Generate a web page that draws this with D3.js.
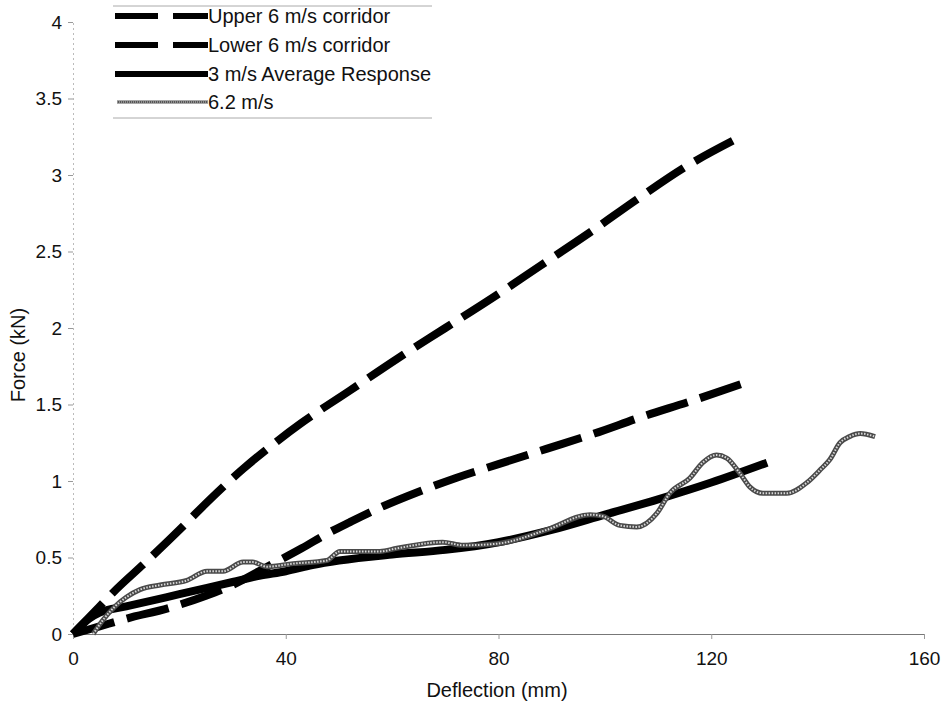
<!DOCTYPE html>
<html><head><meta charset="utf-8">
<script src="https://cdn.jsdelivr.net/npm/d3@7/dist/d3.min.js"></script>
<style>body{margin:0;background:#fff}svg{display:block}text{font-family:"Liberation Sans",Arial,sans-serif;fill:#111}</style>
</head><body>
<svg id="c" width="945" height="715"></svg>
<script>
const xTicks = [0, 40, 80, 120, 160];
const yTicks = [0, 0.5, 1, 1.5, 2, 2.5, 3, 3.5, 4];
const yTickLabels = ["0", "0.5", "1", "1.5", "2", "2.5", "3", "3.5", "4"];
const seriesNames = ["Upper 6 m/s corridor", "Lower 6 m/s corridor", "3 m/s Average Response", "6.2 m/s"];
const upperCorridor = [[0,0],[5,0.18],[7.5,0.27],[14,0.48],[20,0.68],[24,0.82],[32,1.08],[38,1.25],[43,1.38],[52,1.59],[61,1.80],[70,2.0],[79,2.2],[88,2.41],[97,2.62],[106,2.84],[115,3.05],[125.5,3.25]];
const lowerCorridor = [[0,0],[5,0.05],[10,0.1],[18,0.17],[25,0.25],[30,0.32],[36,0.43],[43,0.56],[48,0.66],[52,0.73],[58,0.83],[65,0.93],[72,1.02],[80,1.11],[89,1.21],[98,1.31],[107,1.42],[116,1.52],[127,1.65]];
const avg3 = [[0,0],[3,0.1],[5,0.14],[10,0.18],[15,0.22],[20,0.26],[25,0.3],[30,0.34],[35,0.38],[40,0.41],[45,0.45],[50,0.48],[60,0.52],[70,0.55],[80,0.6],[90,0.68],[100,0.78],[110,0.88],[120,0.99],[130.5,1.12]];
const run62 = [[3.8,0],[5.6,0.09],[7.9,0.18],[10,0.24],[12.6,0.29],[16.4,0.32],[21.4,0.35],[25.2,0.41],[28.2,0.41],[32,0.47],[33.8,0.47],[36.4,0.44],[41.4,0.46],[47.7,0.48],[50.2,0.54],[57.7,0.54],[60.9,0.56],[69.5,0.6],[73.3,0.58],[79.7,0.59],[89,0.68],[97.2,0.78],[99.6,0.77],[102.8,0.71],[106,0.70],[109.8,0.79],[112.2,0.92],[116,1.02],[118.4,1.12],[121,1.17],[122.9,1.15],[125.4,1.05],[127.3,0.96],[129.7,0.92],[134.2,0.92],[138,0.99],[140.4,1.07],[142.3,1.14],[144.2,1.25],[146,1.29],[148,1.31],[150.8,1.29]];

const svg = d3.select("#c");
const x = d3.scaleLinear().domain([0,160]).range([73,924]);
const y = d3.scaleLinear().domain([0,4]).range([634,22]);
const FF = "Liberation Sans, Arial, sans-serif";

// y axis (faint dotted)
const yAx = svg.append("g").attr("transform","translate(73,0)")
  .call(d3.axisLeft(y).tickValues(yTicks).tickFormat((d,i)=>yTickLabels[i]).tickSize(5).tickPadding(6));
yAx.select(".domain").attr("stroke","#bbb").attr("stroke-dasharray","2,3");
yAx.selectAll(".tick line").attr("stroke","#999");
yAx.selectAll(".tick text").attr("font-size",19).style("font-family",FF).attr("fill","#111");

// x axis
const xAx = svg.append("g").attr("transform","translate(0,634)")
  .call(d3.axisBottom(x).tickValues(xTicks).tickFormat(d3.format("d")).tickSizeInner(5).tickSizeOuter(0).tickPadding(13));
xAx.select(".domain").attr("stroke","#777");
xAx.selectAll(".tick line").attr("stroke","#999");
xAx.selectAll(".tick text").attr("font-size",19).style("font-family",FF).attr("fill","#111");

svg.append("text").attr("x",497).attr("y",697).attr("text-anchor","middle").attr("font-size",20).text("Deflection (mm)");
svg.append("text").attr("transform","translate(25,355) rotate(-90)").attr("text-anchor","middle").attr("font-size",20).text("Force (kN)");

const lineS = d3.line().x(d=>x(d[0])).y(d=>y(d[1])).curve(d3.curveMonotoneX);

svg.append("path").datum(upperCorridor).attr("d",lineS).attr("fill","none").attr("stroke","#000").attr("stroke-width",8).attr("stroke-dasharray","43,13");
svg.append("path").datum(lowerCorridor).attr("d",lineS).attr("fill","none").attr("stroke","#000").attr("stroke-width",8).attr("stroke-dasharray","43,13");
svg.append("path").datum(avg3).attr("d",lineS).attr("fill","none").attr("stroke","#000").attr("stroke-width",8);
svg.append("path").datum(run62).attr("d",lineS).attr("fill","none").attr("stroke","#4a4a4a").attr("stroke-width",5).attr("stroke-linejoin","round");
svg.append("path").datum(run62).attr("d",lineS).attr("fill","none").attr("stroke","#d8d8d8").attr("stroke-width",2).attr("stroke-dasharray","1.5,1.5");

// legend
const lg = svg.append("g");
lg.append("line").attr("x1",113).attr("x2",432).attr("y1",6).attr("y2",6).attr("stroke","#aaa").attr("stroke-width",1);
lg.append("line").attr("x1",113).attr("x2",432).attr("y1",118).attr("y2",118).attr("stroke","#aaa").attr("stroke-width",1);
const rowsY = [16, 45, 74, 102];
seriesNames.forEach((nm,i)=>{
  const ly = rowsY[i];
  if (i < 2) {
    lg.append("line").attr("x1",115).attr("x2",208).attr("y1",ly).attr("y2",ly).attr("stroke","#000").attr("stroke-width",6).attr("stroke-dasharray","43,15");
  } else if (i === 2) {
    lg.append("line").attr("x1",115).attr("x2",208).attr("y1",ly).attr("y2",ly).attr("stroke","#000").attr("stroke-width",6);
  } else {
    lg.append("line").attr("x1",117).attr("x2",208).attr("y1",ly).attr("y2",ly).attr("stroke","#555").attr("stroke-width",3);
    lg.append("line").attr("x1",117).attr("x2",208).attr("y1",ly).attr("y2",ly).attr("stroke","#ccc").attr("stroke-width",1).attr("stroke-dasharray","1,1");
  }
  lg.append("text").attr("x",208).attr("y",ly).attr("dy","0.35em").attr("font-size",20).text(nm);
});
</script>
</body></html>
